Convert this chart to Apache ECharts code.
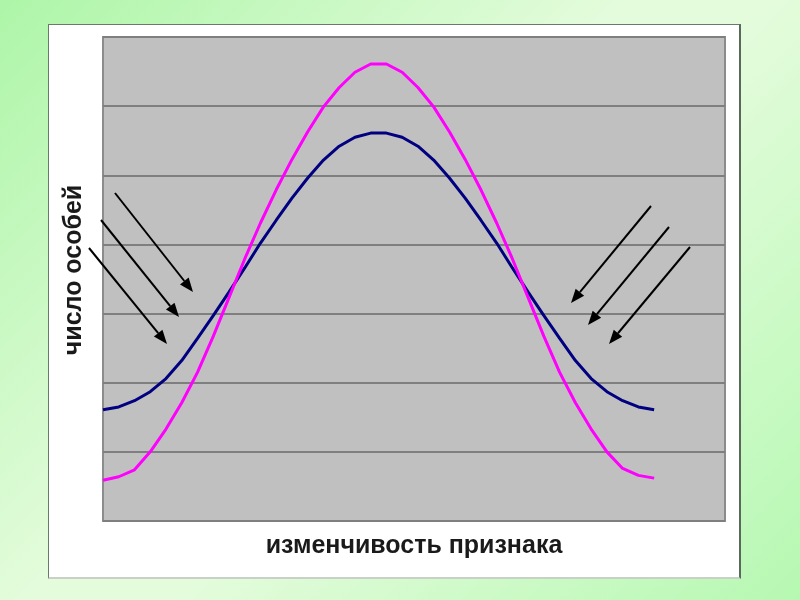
<!DOCTYPE html>
<html>
<head>
<meta charset="utf-8">
<script src="https://cdn.jsdelivr.net/npm/echarts@6/dist/echarts.min.js"></script>
<style>
html,body{margin:0;padding:0;width:800px;height:600px;overflow:hidden;}
body{background:linear-gradient(135deg,#adf5a8 0%,#e4fcdc 45%,#e4fcdc 55%,#b6f8b2 100%);}
#panel{position:absolute;left:48px;top:24px;width:690px;height:552px;background:#fff;border-left:1px solid #6a7a6a;border-top:1px solid #6a7a6a;border-right:2px solid #5a6a5a;border-bottom:2px solid #c8d0c8;}
#chart{position:absolute;left:0;top:0;width:800px;height:600px;}
</style>
</head>
<body>
<div id="panel"></div>
<div id="chart"></div>
<script>
// Categories (point index along the trait axis)
const categories = [0,1,2,3,4,5,6,7,8,9,10,11,12,13,14,15,16,17,18,19,20,21,22,23,24,25,26,27,28,29,30,31,32,33,34,35];
// Narrow distribution (magenta)
const pinkValues = [0.59,0.64,0.74,1.00,1.33,1.71,2.15,2.67,3.23,3.79,4.31,4.79,5.23,5.63,5.99,6.27,6.49,6.61,
                    6.61,6.49,6.27,5.99,5.63,5.23,4.79,4.31,3.79,3.23,2.67,2.15,1.71,1.33,1.00,0.76,0.66,0.62];
// Wide distribution (navy)
const navyValues = [1.61,1.65,1.74,1.87,2.06,2.32,2.64,2.97,3.31,3.66,4.02,4.35,4.67,4.96,5.22,5.42,5.55,5.61,
                    5.61,5.55,5.42,5.22,4.96,4.67,4.35,4.02,3.66,3.31,2.97,2.64,2.32,2.06,1.87,1.74,1.65,1.61];
const yTicks = [0,1,2,3,4,5,6,7];
const xName = 'изменчивость признака';
const yName = 'число особей';
// Arrow annotations [x1,y1,x2,y2] in page pixels (tail -> head)
const arrows = [
  [115,193,193,292],[101,220,179,317],[89,248,167,344],
  [651,206,571,303],[669,227,588,325],[690,247,609,344]
];

const chart = echarts.init(document.getElementById('chart'), null, {renderer:'canvas'});

function arrowGraphic(a){
  const [x1,y1,x2,y2] = a;
  const ang = Math.atan2(y2-y1, x2-x1);
  const L = 14, W = 5.5;
  const bx = x2 - L*Math.cos(ang), by = y2 - L*Math.sin(ang);
  const px = -Math.sin(ang), py = Math.cos(ang);
  return [
    {type:'line', z:100, shape:{x1:x1,y1:y1,x2:bx,y2:by}, style:{stroke:'#000',lineWidth:2}},
    {type:'polygon', z:100, shape:{points:[[x2,y2],[bx+px*W,by+py*W],[bx-px*W,by-py*W]]}, style:{fill:'#000'}}
  ];
}

const nameStyle = {fontFamily:'Liberation Sans', fontWeight:700, fontSize:25, color:'#1a1a1a'};
const option = {
  backgroundColor:'transparent',
  animation:false,
  grid:{left:103, top:37, width:622, height:484, show:true, backgroundColor:'#c0c0c0', borderColor:'#8c8c8c', borderWidth:2},
  xAxis:{type:'value', min:0, max:39.5, axisLine:{show:false}, axisTick:{show:false}, axisLabel:{show:false}, splitLine:{show:false},
    name:xName, nameLocation:'middle', nameGap:13, nameTextStyle:nameStyle},
  yAxis:{type:'value', min:yTicks[0], max:yTicks[yTicks.length-1], interval:1, axisLine:{show:false}, axisTick:{show:false}, axisLabel:{show:false},
    splitLine:{show:true, lineStyle:{color:'#7f7f7f', width:2}},
    name:yName, nameLocation:'middle', nameGap:16, nameRotate:90,
    nameTextStyle:Object.assign({}, nameStyle, {padding:[0,0,0,18]})},
  series:[
    {type:'line', data:categories.map((c,i)=>[c, navyValues[i]]), showSymbol:false, lineStyle:{color:'#000080', width:3}, itemStyle:{color:'#000080'}, z:3},
    {type:'line', data:categories.map((c,i)=>[c, pinkValues[i]]), showSymbol:false, lineStyle:{color:'#ff00ff', width:3}, itemStyle:{color:'#ff00ff'}, z:4}
  ],
  graphic: arrows.flatMap(arrowGraphic)
};
chart.setOption(option);
</script>
</body>
</html>
